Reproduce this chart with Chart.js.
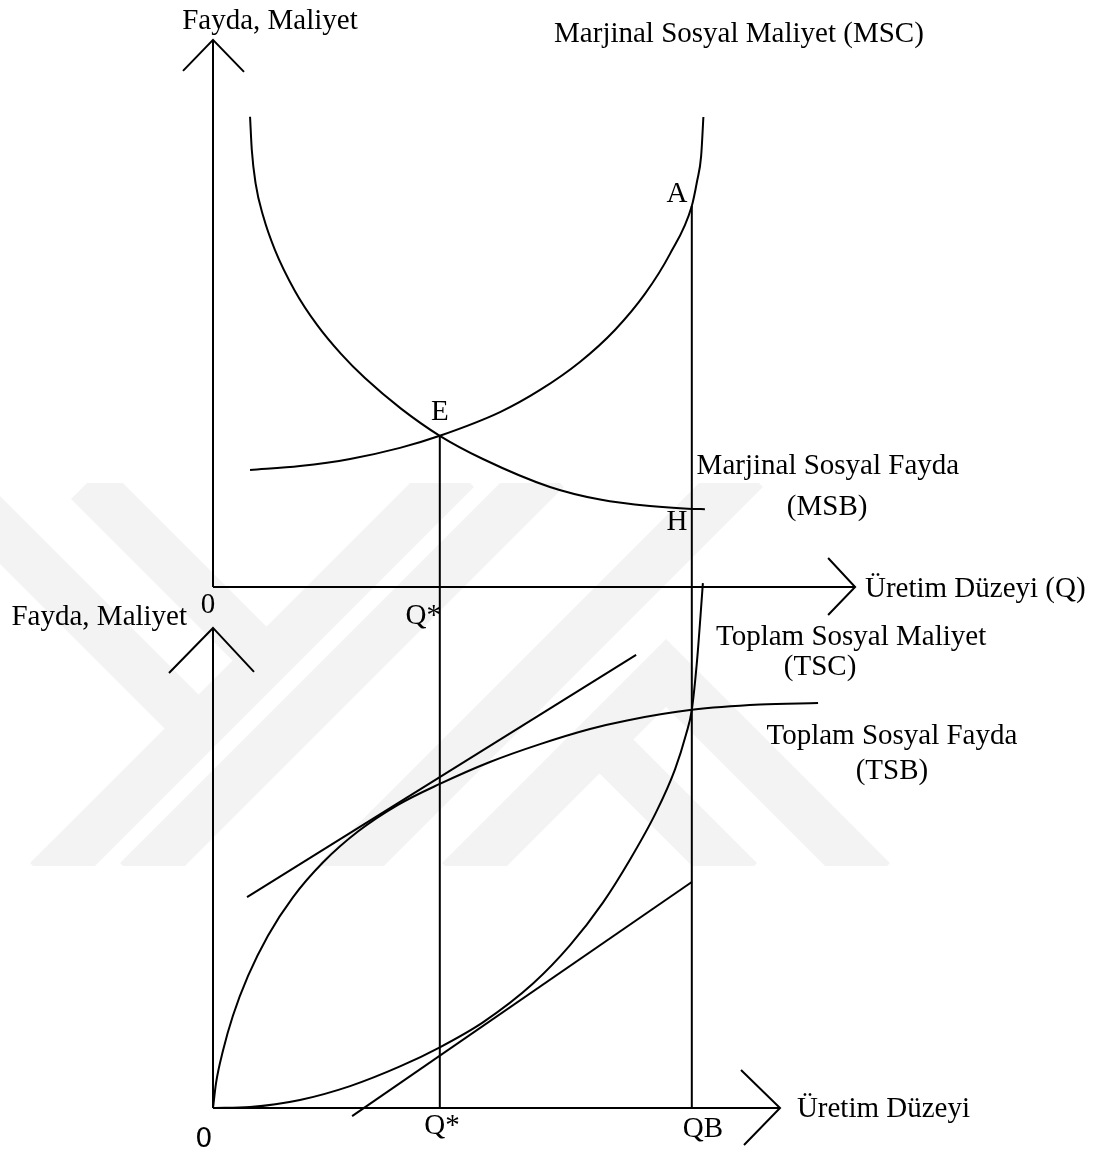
<!DOCTYPE html>
<html>
<head>
<meta charset="utf-8">
<script src="https://cdn.jsdelivr.net/npm/chart.js@4.4.0/dist/chart.umd.min.js"></script>
<style>
  html, body { margin: 0; padding: 0; background: #fff; }
  #wrap { width: 1103px; height: 1151px; }
</style>
</head>
<body>
<div id="wrap"><canvas id="diagram" width="1103" height="1151"></canvas></div>
<script>
// quantity levels marked on both horizontal axes
const qStar = 9;
const qB = 19;

// upper panel: marginal social cost / benefit
const mscQ = [1.47, 3.45, 5.44, 7.42, 9, 11.39, 12.98, 14.56, 15.95, 17.14, 18.13, 19, 19.21, 19.37, 19.46];
const mscV = [4.64, 4.8, 5.08, 5.52, 6.0, 6.94, 7.82, 8.93, 10.2, 11.63, 13.21, 15.12, 16.11, 17.1, 18.65];
const msbQ = [1.47, 1.54, 1.69, 2.0, 2.46, 3.25, 4.13, 5.08, 6.03, 7.46, 9, 10.71, 13.37, 15.36, 17.34, 19, 19.52];
const msbV = [18.66, 17.34, 16.02, 14.69, 13.37, 11.75, 10.4, 9.25, 8.29, 7.08, 6.0, 5.08, 3.97, 3.47, 3.21, 3.1, 3.09];

// lower panel: total social cost / benefit
const tscQ = [0, 1.47, 3.45, 5.44, 7.42, 9, 10.71, 12.7, 14.17, 15.48, 16.55, 17.58, 18.33, 18.77, 19, 19.21, 19.44];
const tscV = [0, 0.04, 0.32, 0.87, 1.65, 2.41, 3.4, 4.94, 6.46, 8.16, 9.86, 11.73, 13.43, 14.82, 15.8, 17.78, 20.83];
const tsbQ = [0, 0.12, 0.4, 0.79, 1.39, 2.18, 3.17, 4.37, 5.75, 7.34, 9, 10.99, 12.98, 14.96, 16.43, 19, 21.71, 24.01];
const tsbV = [0, 0.99, 2.29, 3.66, 5.24, 6.84, 8.36, 9.75, 10.97, 12.03, 12.86, 13.73, 14.44, 15.04, 15.38, 15.8, 16.01, 16.07];

// tangents at Q*
const tsbTangentQ = [1.35, 16.79];
const tsbTangentV = [8.37, 17.98];
const tscTangentQ = [5.52, 19.0];
const tscTangentV = [-0.32, 8.97];

// axis lengths (arrow tips)
const topAxisQ = 25.48, topAxisV = 21.71;
const botAxisQ = 22.5, botAxisV = 19.05;

const serif = '29px "Liberation Serif", "Times New Roman", serif';
const sans = '27px "DejaVu Sans", sans-serif';

const texts = [
  { t: 'Fayda, Maliyet', x: 2.26, y: 22.14, ax: 'yTop' },
  { t: 'Marjinal Sosyal Maliyet (MSC)', x: 20.87, y: 21.63, ax: 'yTop' },
  { t: 'A', x: 18.41, y: 15.28, ax: 'yTop' },
  { t: 'E', x: 9.0, y: 6.63, ax: 'yTop' },
  { t: 'Marjinal Sosyal Fayda', x: 24.4, y: 4.48, ax: 'yTop' },
  { t: '(MSB)', x: 24.37, y: 2.86, ax: 'yTop' },
  { t: 'H', x: 18.41, y: 2.26, ax: 'yTop' },
  { t: '0', x: -0.2, y: -1.03, ax: 'yTop' },
  { t: 'Q*', x: 9.05, y: -1.47, ax: 'yTop', align: 'right' },
  { t: 'Üretim Düzeyi (Q)', x: 25.87, y: -0.4, ax: 'yTop', align: 'left' },
  { t: 'Fayda, Maliyet', x: -1.03, y: -1.51, ax: 'yTop', align: 'right' },
  { t: 'Toplam Sosyal Maliyet', x: 25.32, y: 18.37, ax: 'yBot' },
  { t: '(TSC)', x: 24.09, y: 17.18, ax: 'yBot' },
  { t: 'Toplam Sosyal Fayda', x: 26.94, y: 14.44, ax: 'yBot' },
  { t: '(TSB)', x: 26.94, y: 13.06, ax: 'yBot' },
  { t: '0', x: -0.36, y: -1.55, ax: 'yBot', font: sans },
  { t: 'Q*', x: 9.09, y: -1.03, ax: 'yBot' },
  { t: 'QB', x: 19.44, y: -1.15, ax: 'yBot' },
  { t: 'Üretim Düzeyi', x: 23.17, y: -0.36, ax: 'yBot', align: 'left' }
];

// arrow heads: tip in data units, arms in px
const arrows = [
  { x: 0, y: topAxisV, ax: 'yTop', arms: [[-30, 31], [31, 32]] },
  { x: topAxisQ, y: 0, ax: 'yTop', arms: [[-27, -29], [-27, 28]] },
  { x: 0, y: botAxisV, ax: 'yBot', arms: [[-44, 45], [41, 44]] },
  { x: botAxisQ, y: 0, ax: 'yBot', arms: [[-39, -38], [-36, 37]] }
];

// faint watermark bands of the scanned page (px)
const watermark = [
  [[88, 482], [262, 656]],
  [[457, 470], [47, 880]],
  [[-30, 500], [193, 723]],
  [[547, 470], [137, 880]],
  [[746, 470], [336, 880]],
  [[459, 880], [666, 673], [873, 880]],
  [[603, 743], [740, 880]]
];

function pts(q, v) {
  return q.map((x, i) => ({ x: x, y: v[i] }));
}

const dropLines = [
  { q: qStar, from: mscV[mscQ.indexOf(qStar)] },
  { q: qB, from: mscV[mscQ.indexOf(qB)] }
];

const decor = {
  id: 'decor',
  beforeDatasetsDraw(chart) {
    const ctx = chart.ctx;
    ctx.save();
    ctx.beginPath();
    ctx.rect(0, 483, chart.width, 383);
    ctx.clip();
    ctx.strokeStyle = '#f3f3f3';
    ctx.lineWidth = 48;
    ctx.lineJoin = 'miter';
    watermark.forEach(b => {
      ctx.beginPath();
      b.forEach((p, i) => i ? ctx.lineTo(p[0], p[1]) : ctx.moveTo(p[0], p[1]));
      ctx.stroke();
    });
    ctx.restore();
  },
  afterDatasetsDraw(chart) {
    const { ctx, scales } = chart;
    const xs = scales.x;
    ctx.save();
    ctx.strokeStyle = '#000';
    ctx.lineWidth = 2;

    dropLines.forEach(d => {
      const px = xs.getPixelForValue(d.q);
      ctx.beginPath();
      ctx.moveTo(px, scales.yTop.getPixelForValue(d.from));
      ctx.lineTo(px, scales.yBot.getPixelForValue(0));
      ctx.stroke();
    });

    arrows.forEach(a => {
      const tx = xs.getPixelForValue(a.x);
      const ty = scales[a.ax].getPixelForValue(a.y);
      ctx.beginPath();
      ctx.moveTo(tx + a.arms[0][0], ty + a.arms[0][1]);
      ctx.lineTo(tx, ty);
      ctx.lineTo(tx + a.arms[1][0], ty + a.arms[1][1]);
      ctx.stroke();
    });

    ctx.fillStyle = '#000';
    ctx.textBaseline = 'alphabetic';
    texts.forEach(l => {
      ctx.font = l.font || serif;
      ctx.textAlign = l.align || 'center';
      ctx.fillText(l.t, xs.getPixelForValue(l.x), scales[l.ax].getPixelForValue(l.y));
    });
    ctx.restore();
  }
};

const base = { showLine: true, pointRadius: 0, borderColor: '#000', borderWidth: 2, fill: false };
const curve = { ...base, cubicInterpolationMode: 'monotone' };

new Chart(document.getElementById('diagram'), {
  type: 'scatter',
  data: {
    datasets: [
      { ...curve, label: 'MSC', data: pts(mscQ, mscV), yAxisID: 'yTop' },
      { ...curve, label: 'MSB', data: pts(msbQ, msbV), yAxisID: 'yTop' },
      { ...curve, label: 'TSC', data: pts(tscQ, tscV), yAxisID: 'yBot' },
      { ...curve, label: 'TSB', data: pts(tsbQ, tsbV), yAxisID: 'yBot' },
      { ...base, label: 'TSB tangent', data: pts(tsbTangentQ, tsbTangentV), yAxisID: 'yBot' },
      { ...base, label: 'TSC tangent', data: pts(tscTangentQ, tscTangentV), yAxisID: 'yBot' },
      { ...base, label: 'top y', data: [{ x: 0, y: 0 }, { x: 0, y: topAxisV }], yAxisID: 'yTop' },
      { ...base, label: 'top x', data: [{ x: 0, y: 0 }, { x: topAxisQ, y: 0 }], yAxisID: 'yTop' },
      { ...base, label: 'bottom y', data: [{ x: 0, y: 0 }, { x: 0, y: botAxisV }], yAxisID: 'yBot' },
      { ...base, label: 'bottom x', data: [{ x: 0, y: 0 }, { x: botAxisQ, y: 0 }], yAxisID: 'yBot' }
    ]
  },
  options: {
    responsive: false,
    animation: false,
    layout: { padding: 0 },
    plugins: { legend: { display: false }, tooltip: { enabled: false } },
    scales: {
      x: { type: 'linear', display: false, min: -8.4524, max: 35.317 },
      yTop: { type: 'linear', display: false, min: -22.381, max: 23.294 },
      yBot: { type: 'linear', display: false, min: -1.706, max: 43.968 }
    }
  },
  plugins: [decor]
});
</script>
</body>
</html>
